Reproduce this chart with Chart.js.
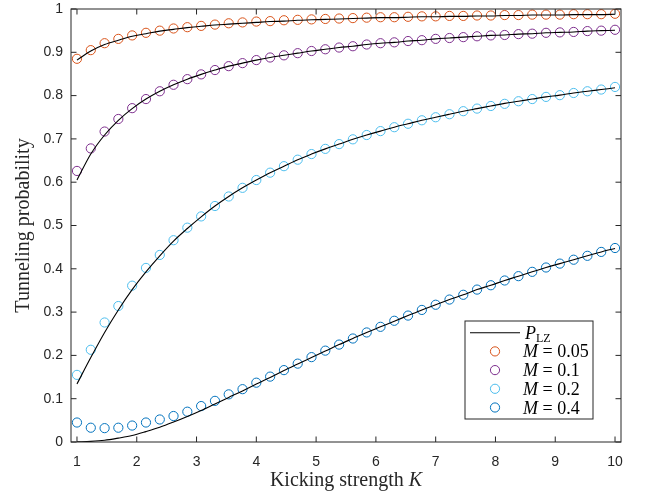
<!DOCTYPE html>
<html>
<head>
<meta charset="utf-8">
<script src="https://cdn.jsdelivr.net/npm/chart.js@4.4.1/dist/chart.umd.min.js"></script>
<style>
  html, body { margin: 0; padding: 0; background: #fff; }
  #wrap { width: 652px; height: 498px; }
</style>
</head>
<body>
<div id="wrap"><canvas id="tunnel"></canvas></div>
<script>
"use strict";

// kicking strength K (40 samples)
var kValues = [1, 1.231, 1.462, 1.692, 1.923, 2.154, 2.385, 2.615, 2.846, 3.077,
    3.308, 3.538, 3.769, 4, 4.231, 4.462, 4.692, 4.923, 5.154, 5.385,
    5.615, 5.846, 6.077, 6.308, 6.538, 6.769, 7, 7.231, 7.462, 7.692,
    7.923, 8.154, 8.385, 8.615, 8.846, 9.077, 9.308, 9.538, 9.769, 10];

var xTicks = [1, 2, 3, 4, 5, 6, 7, 8, 9, 10];
var yTicks = [0, 0.1, 0.2, 0.3, 0.4, 0.5, 0.6, 0.7, 0.8, 0.9, 1];

// P_LZ curves
var lineM005 = [0.882, 0.903, 0.918, 0.928, 0.937, 0.943, 0.949, 0.953, 0.957, 0.960,
    0.963, 0.965, 0.967, 0.969, 0.971, 0.972, 0.974, 0.975, 0.976, 0.977,
    0.978, 0.979, 0.980, 0.980, 0.981, 0.982, 0.982, 0.983, 0.983, 0.984,
    0.984, 0.985, 0.985, 0.986, 0.986, 0.986, 0.987, 0.987, 0.987, 0.988];
var lineM01 = [0.605, 0.665, 0.709, 0.743, 0.770, 0.792, 0.810, 0.825, 0.838, 0.849,
    0.859, 0.868, 0.875, 0.882, 0.888, 0.893, 0.898, 0.903, 0.907, 0.911,
    0.914, 0.918, 0.921, 0.923, 0.926, 0.928, 0.931, 0.933, 0.935, 0.937,
    0.939, 0.940, 0.942, 0.943, 0.945, 0.946, 0.947, 0.949, 0.950, 0.951];
var lineM02 = [0.134, 0.195, 0.253, 0.305, 0.352, 0.393, 0.430, 0.464, 0.493, 0.520,
    0.545, 0.567, 0.587, 0.605, 0.622, 0.637, 0.652, 0.665, 0.677, 0.688,
    0.699, 0.709, 0.718, 0.727, 0.735, 0.743, 0.750, 0.757, 0.764, 0.770,
    0.776, 0.782, 0.787, 0.792, 0.797, 0.801, 0.806, 0.810, 0.814, 0.818];
var lineM04 = [0.0003, 0.0015, 0.004, 0.009, 0.015, 0.024, 0.034, 0.046, 0.059, 0.073,
    0.088, 0.103, 0.118, 0.134, 0.149, 0.165, 0.180, 0.195, 0.210, 0.225,
    0.239, 0.253, 0.266, 0.279, 0.292, 0.305, 0.317, 0.329, 0.340, 0.352,
    0.362, 0.373, 0.383, 0.393, 0.403, 0.412, 0.421, 0.430, 0.439, 0.447];

// simulated tunneling probability (circles)
var dotsM005 = [0.885, 0.905, 0.921, 0.931, 0.939, 0.945, 0.950, 0.955, 0.958, 0.961,
    0.964, 0.967, 0.969, 0.971, 0.972, 0.974, 0.975, 0.976, 0.977, 0.978,
    0.979, 0.980, 0.981, 0.981, 0.982, 0.983, 0.983, 0.984, 0.984, 0.985,
    0.985, 0.986, 0.986, 0.987, 0.987, 0.987, 0.988, 0.988, 0.988, 0.989];
var dotsM01 = [0.626, 0.678, 0.717, 0.746, 0.771, 0.792, 0.810, 0.825, 0.838, 0.849,
    0.859, 0.868, 0.875, 0.882, 0.888, 0.893, 0.898, 0.903, 0.907, 0.911,
    0.914, 0.918, 0.921, 0.923, 0.926, 0.928, 0.931, 0.933, 0.935, 0.937,
    0.939, 0.940, 0.942, 0.943, 0.945, 0.946, 0.947, 0.949, 0.950, 0.952];
var dotsM02 = [0.155, 0.213, 0.276, 0.314, 0.361, 0.402, 0.432, 0.466, 0.495, 0.521,
    0.545, 0.567, 0.587, 0.605, 0.622, 0.637, 0.652, 0.665, 0.677, 0.688,
    0.699, 0.709, 0.718, 0.727, 0.735, 0.743, 0.750, 0.757, 0.764, 0.770,
    0.776, 0.781, 0.787, 0.792, 0.797, 0.801, 0.806, 0.810, 0.814, 0.820];
var dotsM04 = [0.045, 0.033, 0.032, 0.033, 0.038, 0.045, 0.052, 0.060, 0.070, 0.083,
    0.095, 0.110, 0.122, 0.137, 0.151, 0.166, 0.181, 0.196, 0.211, 0.225,
    0.239, 0.253, 0.266, 0.280, 0.292, 0.305, 0.317, 0.329, 0.340, 0.352,
    0.362, 0.373, 0.383, 0.393, 0.403, 0.412, 0.421, 0.430, 0.439, 0.448];

var massLabels = ['0.05', '0.1', '0.2', '0.4'];
var massColors = ['#D95319', '#7E2F8E', '#4DBEEE', '#0072BD'];
var curveSets = [lineM005, lineM01, lineM02, lineM04];
var dotSets = [dotsM005, dotsM01, dotsM02, dotsM04];

var axisColor = '#262626';
var serif = '"Liberation Serif", "Times New Roman", serif';

function toPoints(ys) {
    return kValues.map(function (k, i) {
        return { x: k, y: ys[i] };
    });
}

var datasets = [];
curveSets.forEach(function (ys) {
    datasets.push({
        label: 'P_LZ',
        data: toPoints(ys),
        showLine: true,
        borderColor: '#000',
        borderWidth: 1.1,
        pointRadius: 0,
        cubicInterpolationMode: 'monotone',
        fill: false,
        order: 0
    });
});
dotSets.forEach(function (ys, i) {
    datasets.push({
        label: 'M = ' + massLabels[i],
        data: toPoints(ys),
        showLine: false,
        pointStyle: 'circle',
        pointRadius: 4.6,
        pointBorderWidth: 1,
        pointBorderColor: massColors[i],
        pointBackgroundColor: 'rgba(0,0,0,0)',
        order: 1
    });
});

// MATLAB style box, inward ticks, axis titles and legend
var matlabFrame = {
    id: 'matlabFrame',
    afterDatasetsDraw: function (chart) {
        var ctx = chart.ctx;
        var a = chart.chartArea;
        var xs = chart.scales.x, ys = chart.scales.y;
        var tl = 5.5;
        ctx.save();
        ctx.strokeStyle = axisColor;
        ctx.lineWidth = 1;
        ctx.strokeRect(a.left, a.top, a.right - a.left, a.bottom - a.top);
        ctx.beginPath();
        xTicks.forEach(function (v) {
            var px = xs.getPixelForValue(v);
            ctx.moveTo(px, a.bottom); ctx.lineTo(px, a.bottom - tl);
            ctx.moveTo(px, a.top); ctx.lineTo(px, a.top + tl);
        });
        yTicks.forEach(function (v) {
            var py = ys.getPixelForValue(v);
            ctx.moveTo(a.left, py); ctx.lineTo(a.left + tl, py);
            ctx.moveTo(a.right, py); ctx.lineTo(a.right - tl, py);
        });
        ctx.stroke();

        // axis titles
        ctx.fillStyle = axisColor;
        ctx.textBaseline = 'alphabetic';
        var t1 = 'Kicking strength ';
        ctx.font = '20px ' + serif;
        var w1 = ctx.measureText(t1).width;
        ctx.font = 'italic 20px ' + serif;
        var w2 = ctx.measureText('K').width;
        var cx = (a.left + a.right) / 2;
        var sx = cx - (w1 + w2) / 2;
        ctx.font = '20px ' + serif;
        ctx.textAlign = 'left';
        ctx.fillText(t1, sx, 486);
        ctx.font = 'italic 20px ' + serif;
        ctx.fillText('K', sx + w1, 486);

        ctx.save();
        ctx.translate(29, (a.top + a.bottom) / 2);
        ctx.rotate(-Math.PI / 2);
        ctx.font = '20px ' + serif;
        ctx.textAlign = 'center';
        ctx.fillText('Tunneling probability', 0, 0);
        ctx.restore();

        // legend
        var bw = 128, bh = 98;
        var bx = a.right - 28 - bw, by = a.bottom - 23 - bh;
        ctx.fillStyle = '#fff';
        ctx.fillRect(bx, by, bw, bh);
        ctx.strokeStyle = axisColor;
        ctx.strokeRect(bx, by, bw, bh);
        var row0 = by + 11.7, step = 18.7;
        ctx.strokeStyle = '#000';
        ctx.lineWidth = 1.1;
        ctx.beginPath();
        ctx.moveTo(bx + 5, row0); ctx.lineTo(bx + 55, row0);
        ctx.stroke();
        ctx.fillStyle = '#000';
        ctx.textAlign = 'left';
        ctx.font = 'italic 18px ' + serif;
        ctx.fillText('P', bx + 60, row0 + 6);
        var pw = ctx.measureText('P').width;
        ctx.font = '12px ' + serif;
        ctx.fillText('LZ', bx + 60 + pw, row0 + 9);
        massLabels.forEach(function (m, i) {
            var ry = row0 + step * (i + 1);
            ctx.strokeStyle = massColors[i];
            ctx.lineWidth = 1;
            ctx.beginPath();
            ctx.arc(bx + 30, ry, 4.6, 0, Math.PI * 2);
            ctx.stroke();
            ctx.font = 'italic 18px ' + serif;
            ctx.fillText('M', bx + 58, ry + 6);
            var mw = ctx.measureText('M').width;
            ctx.font = '18px ' + serif;
            ctx.fillText(' = ' + m, bx + 58 + mw, ry + 6);
        });
        ctx.restore();
    }
};

var ctx = document.getElementById('tunnel').getContext('2d');
var tunnelChart = new Chart(ctx, {
    type: 'scatter',
    data: { datasets: datasets },
    options: {
        responsive: true,
        maintainAspectRatio: false,
        animation: false,
        layout: { padding: { top: 9, right: 31, left: 0, bottom: 0 } },
        plugins: {
            legend: { display: false },
            tooltip: { enabled: false }
        },
        scales: {
            x: {
                type: 'linear',
                min: 0.9,
                max: 10.1,
                afterBuildTicks: function (s) {
                    s.ticks = xTicks.map(function (v) { return { value: v }; });
                },
                afterFit: function (s) {
                    s.height = 56;
                    s.paddingLeft = 0;
                    s.paddingRight = 0;
                },
                ticks: {
                    color: axisColor,
                    font: { family: '"Liberation Sans", Arial, sans-serif', size: 14 },
                    padding: 12,
                    maxRotation: 0,
                    autoSkip: false
                },
                grid: { display: false, drawTicks: false },
                border: { display: false }
            },
            y: {
                type: 'linear',
                min: 0,
                max: 1,
                afterBuildTicks: function (s) {
                    s.ticks = yTicks.map(function (v) { return { value: v }; });
                },
                afterFit: function (s) {
                    s.width = 71;
                    s.paddingTop = 0;
                    s.paddingBottom = 0;
                },
                ticks: {
                    color: axisColor,
                    font: { family: '"Liberation Sans", Arial, sans-serif', size: 14 },
                    padding: 8,
                    callback: function (v) { return String(v); }
                },
                grid: { display: false, drawTicks: false },
                border: { display: false }
            }
        }
    },
    plugins: [matlabFrame]
});
</script>
</body>
</html>
